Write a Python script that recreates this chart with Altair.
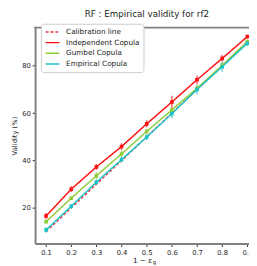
import altair as alt
import pandas as pd

x_vals = [0.1, 0.2, 0.3, 0.4, 0.5, 0.6, 0.7, 0.8, 0.9]
calib = [10, 20, 30, 40, 50, 60, 70, 80, 90]
indep = [16.6, 27.9, 37.3, 45.9, 55.5, 64.7, 74.1, 83.1, 92.3]
indep_err = [1.3, 1.2, 1.2, 1.4, 1.5, 2.6, 1.8, 1.4, 0.8]
gumbel = [14.2, 24.1, 33.6, 42.8, 52.3, 61.4, 70.5, 80.2, 90.2]
gumbel_err = [0.8, 0.8, 1.5, 1.5, 1.0, 1.0, 1.2, 1.2, 0.8]
empir = [10.7, 20.7, 30.9, 40.4, 49.9, 59.8, 70.0, 79.6, 89.5]
empir_err = [1.2, 1.0, 1.0, 1.2, 1.2, 2.0, 2.0, 2.0, 1.2]

names = ["Calibration line", "Independent Copula", "Gumbel Copula", "Empirical Copula"]
colors = ["#f0383c", "#ff1010", "#8fcc3a", "#1cc3c8"]
dashes = [[3, 2], [1, 0], [1, 0], [1, 0]]

rows = []
for name, vals, errs in [
    ("Calibration line", calib, [0] * 9),
    ("Independent Copula", indep, indep_err),
    ("Gumbel Copula", gumbel, gumbel_err),
    ("Empirical Copula", empir, empir_err),
]:
    for xv, v, e in zip(x_vals, vals, errs):
        rows.append({"x": xv, "v": v, "lo": v - e, "hi": v + e, "series": name})
df = pd.DataFrame(rows)

W, H = 221, 223
xs = alt.Scale(domain=[0.0565, 0.9065], nice=False, zero=False)
ys = alt.Scale(domain=[5, 96.1], nice=False, zero=False)
cs = alt.Scale(domain=names, range=colors)
ds = alt.Scale(domain=names, range=dashes)

xa = alt.Axis(values=x_vals, format=".1f", title="1 − ε", grid=False,
              labelOverlap=False, labelBound=False, labelFlush=False,
              titleFontSize=7.5, titleFontWeight="normal", titlePadding=2)
ya = alt.Axis(values=[20, 40, 60, 80], title="Validity (%)", grid=False,
              labelOverlap=False,
              titleFontSize=7, titleFontWeight="normal", titlePadding=4)

base = alt.Chart(df)

lines = base.mark_line(strokeWidth=1.5).encode(
    x=alt.X("x:Q", scale=xs, axis=xa),
    y=alt.Y("v:Q", scale=ys, axis=ya),
    color=alt.Color("series:N", scale=cs, sort=names,
                    legend=alt.Legend(title=None, symbolType="stroke")),
    strokeDash=alt.StrokeDash("series:N", scale=ds, sort=names,
                              legend=alt.Legend(title=None, symbolType="stroke")),
    order=alt.Order("x:Q"),
)

pts_df = base.transform_filter(alt.datum.series != "Calibration line")

errs = pts_df.mark_rule(strokeWidth=1.2, opacity=0.8).encode(
    x=alt.X("x:Q", scale=xs, axis=xa), y=alt.Y("lo:Q", scale=ys, axis=ya), y2="hi:Q",
    color=alt.Color("series:N", scale=cs, legend=None),
)

pts = pts_df.mark_square(size=14, opacity=1).encode(
    x=alt.X("x:Q", scale=xs, axis=xa), y=alt.Y("v:Q", scale=ys, axis=ya),
    color=alt.Color("series:N", scale=cs, legend=None),
)

top = alt.Chart(pd.DataFrame({"a": [0]})).mark_rule(color="#808080", strokeWidth=2).encode(
    x=alt.value(-1), x2=alt.value(W + 5), y=alt.value(0)
)

sub = alt.Chart(pd.DataFrame({"t": ["g"]})).mark_text(
    fontSize=5.5, font="DejaVu Sans", color="#222222", align="left"
).encode(text="t:N", x=alt.value(W / 2 + 11), y=alt.value(H + 19))

chart = alt.layer(lines, errs, pts, top, sub).resolve_scale(color="shared").properties(
    width=W, height=H,
    title=alt.Title("RF : Empirical validity for rf2", fontSize=9, fontWeight="normal",
                    font="DejaVu Sans", color="#222222", offset=4, dx=5),
    autosize=alt.AutoSizeParams(type="none"),
    padding={"left": 28, "top": 16, "right": 0, "bottom": 19},
).configure_view(stroke=None).configure_axis(
    domainColor="#808080", domainWidth=2, tickColor="#222222", tickSize=3,
    labelFontSize=7, labelColor="#222222", labelFont="DejaVu Sans",
    titleFont="DejaVu Sans", titleColor="#222222", labelPadding=2,
    labelOverlap=False,
).configure_legend(
    orient="none", legendX=6, legendY=-4, fillColor="white", strokeColor="#cccccc",
    padding=4, cornerRadius=3, labelFontSize=7.5, labelFont="DejaVu Sans",
    labelColor="#222222", rowPadding=2, symbolSize=200, symbolStrokeWidth=1.5,
    labelOffset=6, clipHeight=9,
)

chart.save("out.html", embed_options={"renderer": "svg", "actions": False})
